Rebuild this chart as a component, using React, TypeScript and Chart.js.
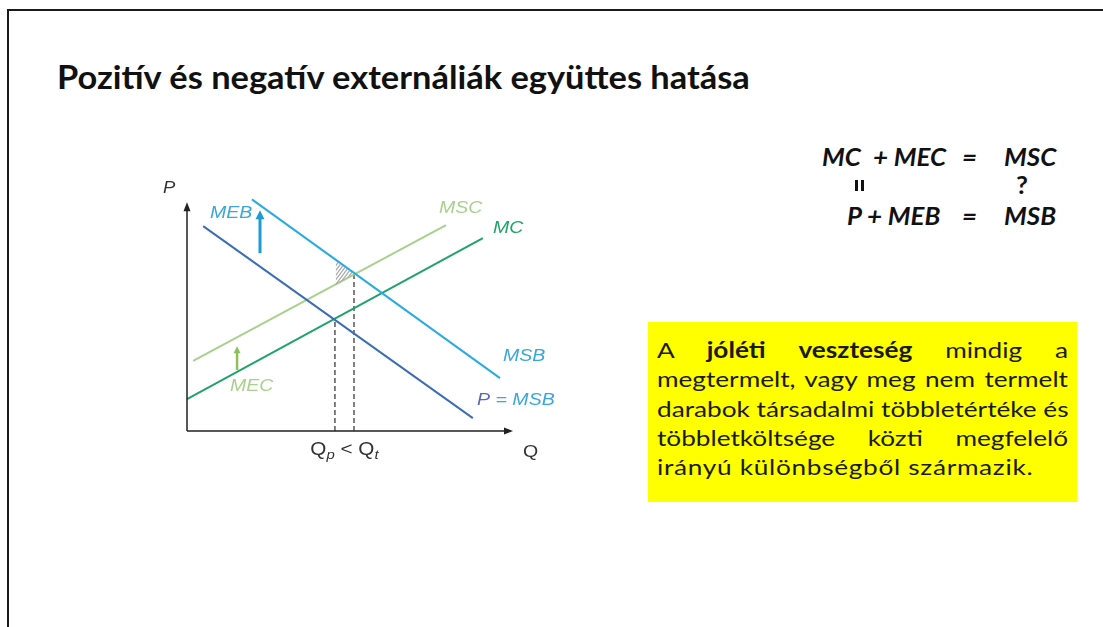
import React, { useEffect, useRef } from "react";
import { Chart, registerables } from "chart.js";
Chart.register(...registerables);

// ---- data (abstract P/Q units) ----
const Q_RANGE = [0, 10];
const P_RANGE = [0, 7.5];
const AXIS_P_TOP = 7.0;
const AXIS_Q_END = 10;

const D_PRIVATE = [{ x: 0.5, y: 6.35 }, { x: 8.85, y: 0.4 }];
const MSB_LINE = [{ x: 2.01, y: 7.18 }, { x: 9.69, y: 1.64 }];
const MSC_LINE = [{ x: 0.19, y: 2.17 }, { x: 8.02, y: 6.38 }];
const MC_LINE = [{ x: 0, y: 0.99 }, { x: 9.16, y: 5.98 }];
const QP_POINT = { q: 4.58, p: 3.5 };
const QT_POINT = { q: 5.17, p: 4.89 };
const MEB_ARROW = { q: 2.26, from: 5.51, to: 6.84 };
const MEC_ARROW = { q: 1.55, from: 1.89, to: 2.63 };
const DWL_TRIANGLE = [{ x: 4.61, y: 5.25 }, { x: 4.61, y: 4.5 }, { x: 5.17, y: 4.89 }];

const LABEL_TEXTS = ["MEB", "MSC", "MC", "MSB", "MEC"];
const LABEL_Q = [0.71, 7.8, 9.47, 9.78, 1.33];
const LABEL_P = [6.75, 6.9, 6.28, 2.32, 1.39];
const LABEL_COLORS = ["#3aa6dc", "#a9d18e", "#1fa36a", "#3aa6dc", "#a9d18e"];

const TITLE = "Pozitív és negatív externáliák együttes hatása";

const LABEL_STRETCH = 1.15;

function App() {
  const ref = useRef<HTMLCanvasElement>(null);

  useEffect(() => {
    const canvas = ref.current!;
    const overlay = {
      id: "overlay",
      afterDatasetsDraw(chart: any) {
        const ctx = chart.ctx as CanvasRenderingContext2D;
        const xs = chart.scales.x;
        const ys = chart.scales.y;
        const X = (v: number) => xs.getPixelForValue(v);
        const Y = (v: number) => ys.getPixelForValue(v);
        const text = (t: string, x: number, y: number) => {
          ctx.save();
          ctx.translate(x, y);
          ctx.scale(LABEL_STRETCH, 1);
          ctx.fillText(t, 0, 0);
          ctx.restore();
          return ctx.measureText(t).width * LABEL_STRETCH;
        };
        ctx.save();

        // hatched deadweight triangle
        ctx.save();
        ctx.beginPath();
        DWL_TRIANGLE.forEach((pt, i) => {
          if (i === 0) ctx.moveTo(X(pt.x), Y(pt.y));
          else ctx.lineTo(X(pt.x), Y(pt.y));
        });
        ctx.closePath();
        ctx.clip();
        ctx.strokeStyle = "#a8a8a8";
        ctx.lineWidth = 1.2;
        const x0 = X(DWL_TRIANGLE[0].x) - 30;
        const y0 = Y(DWL_TRIANGLE[0].y);
        for (let k = 0; k < 20; k++) {
          ctx.beginPath();
          ctx.moveTo(x0 + k * 3.5, y0 + 30);
          ctx.lineTo(x0 + k * 3.5 + 30, y0 - 10);
          ctx.stroke();
        }
        ctx.restore();

        // axes
        const ox = X(0), oy = Y(0);
        ctx.strokeStyle = "#222";
        ctx.fillStyle = "#222";
        ctx.lineWidth = 1.5;
        ctx.beginPath();
        ctx.moveTo(ox, oy);
        ctx.lineTo(ox, Y(AXIS_P_TOP) + 4);
        ctx.moveTo(ox, oy);
        ctx.lineTo(X(AXIS_Q_END) - 4, oy);
        ctx.stroke();
        ctx.beginPath();
        ctx.moveTo(ox, Y(AXIS_P_TOP) - 3);
        ctx.lineTo(ox - 3.5, Y(AXIS_P_TOP) + 6);
        ctx.lineTo(ox + 3.5, Y(AXIS_P_TOP) + 6);
        ctx.closePath();
        ctx.fill();
        ctx.beginPath();
        ctx.moveTo(X(AXIS_Q_END) + 3, oy);
        ctx.lineTo(X(AXIS_Q_END) - 6, oy - 3.5);
        ctx.lineTo(X(AXIS_Q_END) - 6, oy + 3.5);
        ctx.closePath();
        ctx.fill();

        // arrows
        const arrow = (a: { q: number; from: number; to: number }, color: string, w: number, head: number) => {
          const x = X(a.q), y1 = Y(a.from), y2 = Y(a.to);
          ctx.strokeStyle = color;
          ctx.fillStyle = color;
          ctx.lineWidth = w;
          ctx.beginPath();
          ctx.moveTo(x, y1);
          ctx.lineTo(x, y2 + head * 0.8);
          ctx.stroke();
          ctx.beginPath();
          ctx.moveTo(x, y2);
          ctx.lineTo(x - head / 2, y2 + head);
          ctx.lineTo(x + head / 2, y2 + head);
          ctx.closePath();
          ctx.fill();
        };
        arrow(MEB_ARROW, "#1e9ad6", 3, 9);
        arrow(MEC_ARROW, "#8dc05a", 2.5, 7);

        // curve labels
        ctx.textBaseline = "middle";
        ctx.textAlign = "left";
        ctx.font = "italic 17px 'Liberation Sans', Arial, sans-serif";
        LABEL_TEXTS.forEach((t, i) => {
          ctx.fillStyle = LABEL_COLORS[i];
          text(t, X(LABEL_Q[i]), Y(LABEL_P[i]));
        });
        // P = MSB
        let px = X(8.98);
        const py = Y(0.96);
        ctx.fillStyle = "#5b67b8";
        px += text("P ", px, py);
        ctx.fillStyle = "#3aa6dc";
        text("= MSB", px, py);

        // axis names
        ctx.fillStyle = "#333";
        ctx.font = "italic 16px 'Liberation Sans', Arial, sans-serif";
        text("P", X(-0.74), Y(7.52));
        ctx.font = "17px 'Liberation Sans', Arial, sans-serif";
        text("Q", X(10.4), Y(-0.65));

        // Qp < Qt
        const big = "18px 'Liberation Sans', Arial, sans-serif";
        const sub = "italic 13px 'Liberation Sans', Arial, sans-serif";
        const parts: [string, string, number][] = [
          ["Q", big, 0], ["p", sub, 5], [" < ", big, 0], ["Q", big, 0], ["t", sub, 5],
        ];
        let total = 0;
        parts.forEach(([t, f]) => { ctx.font = f; total += ctx.measureText(t).width * LABEL_STRETCH; });
        let cx = (X(QP_POINT.q) + X(QT_POINT.q)) / 2 - total / 2;
        const cy = Y(-0.59);
        ctx.fillStyle = "#333";
        parts.forEach(([t, f, dy]) => {
          ctx.font = f;
          cx += text(t, cx, cy + dy);
        });
        ctx.restore();
      },
    };

    const chart = new Chart(canvas, {
      type: "scatter",
      data: {
        datasets: [
          { label: "P = MSB (private)", data: D_PRIVATE, showLine: true, borderColor: "#3d6db5", borderWidth: 2, pointRadius: 0 },
          { label: "MSB", data: MSB_LINE, showLine: true, borderColor: "#29abe2", borderWidth: 2, pointRadius: 0 },
          { label: "MSC", data: MSC_LINE, showLine: true, borderColor: "#a9d18e", borderWidth: 2, pointRadius: 0 },
          { label: "MC", data: MC_LINE, showLine: true, borderColor: "#1fa36a", borderWidth: 2, pointRadius: 0 },
          { label: "Qp", data: [{ x: QP_POINT.q, y: 0 }, { x: QP_POINT.q, y: QP_POINT.p }], showLine: true, borderColor: "#555", borderWidth: 1.5, borderDash: [5, 3], pointRadius: 0 },
          { label: "Qt", data: [{ x: QT_POINT.q, y: 0 }, { x: QT_POINT.q, y: QT_POINT.p }], showLine: true, borderColor: "#555", borderWidth: 1.5, borderDash: [5, 3], pointRadius: 0 },
        ],
      },
      options: {
        responsive: false,
        animation: false,
        events: [],
        layout: { padding: { left: 47, right: 70, top: 19, bottom: 39 } },
        plugins: { legend: { display: false }, tooltip: { enabled: false }, title: { display: false } },
        scales: {
          x: { type: "linear", min: Q_RANGE[0], max: Q_RANGE[1], display: false },
          y: { type: "linear", min: P_RANGE[0], max: P_RANGE[1], display: false },
        },
      },
      plugins: [overlay],
    } as any);
    return () => chart.destroy();
  }, []);

  const eq: React.CSSProperties = {
    position: "absolute",
    font: "italic 700 24px Lato, 'Open Sans', sans-serif",
    color: "#111",
    lineHeight: "24px",
    whiteSpace: "nowrap",
    transform: "scaleX(1.08)",
    transformOrigin: "left center",
  };
  const BOX_SX = 1.19;
  const boxLine: React.CSSProperties = {
    textAlign: "justify",
    textAlignLast: "justify" as any,
    whiteSpace: "nowrap",
    height: "29.3px",
    lineHeight: "29.3px",
    width: 411 / BOX_SX,
    transform: `scaleX(${BOX_SX})`,
    transformOrigin: "left center",
  };

  return (
    <div style={{ position: "absolute", left: 0, top: 0, width: 1103, height: 627, background: "#fff", overflow: "hidden", fontFamily: "Lato, sans-serif" }}>
      <div style={{ position: "absolute", left: 7, top: 9, right: -5, bottom: -5, borderTop: "2px solid #1a1a1a", borderLeft: "2px solid #1a1a1a" }} />
      <div style={{ position: "absolute", left: 57, top: 59, font: "700 32px Lato, sans-serif", lineHeight: "36px", color: "#111", whiteSpace: "nowrap", transform: "scaleX(1.075)", transformOrigin: "left center" }}>{TITLE}</div>

      <canvas ref={ref} width={440} height={300} style={{ position: "absolute", left: 140, top: 170, width: 440, height: 300 }} />

      <div style={{ ...eq, left: 822, top: 145 }}>MC</div>
      <div style={{ ...eq, left: 873, top: 145 }}>+ MEC</div>
      <div style={{ ...eq, left: 962, top: 145 }}>=</div>
      <div style={{ ...eq, left: 1004, top: 145 }}>MSC</div>
      <div style={{ position: "absolute", left: 855, top: 180, width: 3, height: 11, background: "#111" }} />
      <div style={{ position: "absolute", left: 861, top: 180, width: 3, height: 11, background: "#111" }} />
      <div style={{ ...eq, left: 1016, top: 173, fontStyle: "normal" }}>?</div>
      <div style={{ ...eq, left: 847, top: 204 }}>P</div>
      <div style={{ ...eq, left: 867, top: 204 }}>+ MEB</div>
      <div style={{ ...eq, left: 962, top: 204 }}>=</div>
      <div style={{ ...eq, left: 1004, top: 204 }}>MSB</div>

      <div style={{ position: "absolute", left: 648, top: 322, width: 429, height: 180, background: "#ffff00", boxSizing: "border-box", padding: "13px 9px 0 9px", font: "400 22px Lato, sans-serif", color: "#1a1a1a" }}>
        <div style={boxLine}>A <b>jóléti</b> <b>veszteség</b> mindig a</div>
        <div style={boxLine}>megtermelt, vagy meg nem termelt</div>
        <div style={boxLine}>darabok társadalmi többletértéke és</div>
        <div style={boxLine}>többletköltsége közti megfelelő</div>
        <div style={{ ...boxLine, textAlign: "left", textAlignLast: "left" as any, letterSpacing: "0.6px" }}>irányú különbségből származik.</div>
      </div>
    </div>
  );
}

export default App;
